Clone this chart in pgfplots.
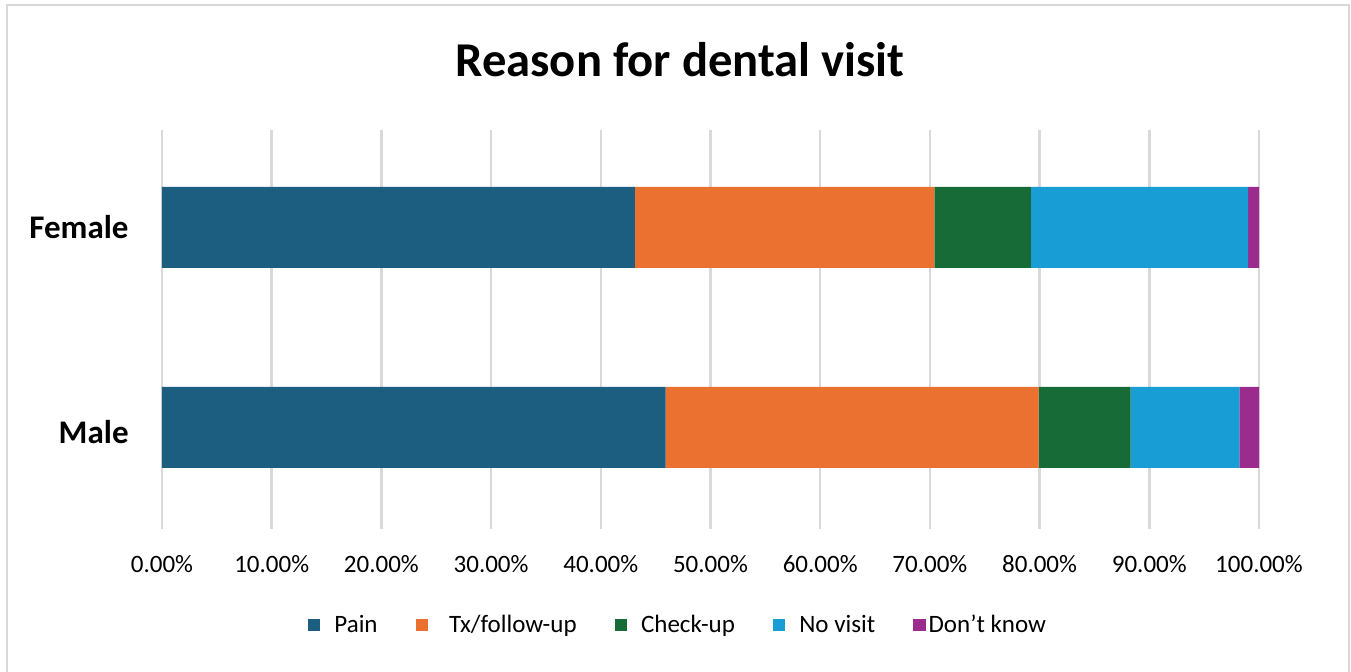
\documentclass[border=0pt]{standalone}
\usepackage{fontspec}
\setmainfont{Carlito}
\usepackage{pgfplots}
\pgfplotsset{compat=1.18}
\definecolor{cPain}{HTML}{1B5E80}
\definecolor{cTx}{HTML}{EB7130}
\definecolor{cCheck}{HTML}{176B37}
\definecolor{cNo}{HTML}{189DD5}
\definecolor{cDK}{HTML}{9B2C8D}
\definecolor{cGrid}{HTML}{D9D9D9}
\begin{document}
\begin{tikzpicture}
\useasboundingbox (-81pt,-71.5pt) rectangle (594.5pt,264.5pt);
\draw[cGrid, line width=1pt] (-77.5pt,-90pt) -- (-77.5pt,262pt) -- (593.5pt,262pt) -- (593.5pt,-90pt);
\begin{axis}[
  scale only axis,
  width=548.5pt, height=199.5pt,
  xbar stacked,
  bar width=40.5pt,
  xmin=0, xmax=100,
  ymin=-0.5075, ymax=1.4875,
  ytick={0,1},
  yticklabels={\raisebox{-8pt}[0pt][0pt]{Male},\raisebox{-5.3pt}[0pt][0pt]{Female}},
  xtick={0,10,...,100},
  xticklabels={0.00\%,10.00\%,20.00\%,30.00\%,40.00\%,50.00\%,60.00\%,70.00\%,80.00\%,90.00\%,100.00\%},
  major tick length=0pt,
  axis line style={draw=none},
  xmajorgrids,
  grid style={cGrid, line width=1.2pt},
  yticklabel style={font=\fontsize{16.5}{18}\selectfont\bfseries, inner sep=0pt, anchor=east, xshift=-16.5pt},
  xticklabel style={font=\fontsize{12.5}{14}\selectfont, inner sep=0pt, anchor=north, yshift=-13pt},
  title={Reason for dental visit},
  title style={at={(axis description cs:0.4722,1.1454)}, anchor=center, font=\fontsize{24.3}{28}\selectfont\bfseries},
  legend columns=5,
  legend style={at={(axis description cs:0.4713,-0.2406)}, anchor=center, draw=none,
    font=\fontsize{12.5}{14}\selectfont,
    /tikz/every odd column/.append style={column sep=5pt},
    /tikz/every even column/.append style={column sep=17pt}},
  legend image code/.code={\fill[#1] (0pt,-3.2pt) rectangle (6.2pt,3.2pt);},
]
\addplot[fill=cPain, draw=none] coordinates {(45.9,0) (43.1,1)};
\addplot[fill=cTx, draw=none] coordinates {(34.0,0) (27.3,1)};
\addplot[fill=cCheck, draw=none] coordinates {(8.4,0) (8.8,1)};
\addplot[fill=cNo, draw=none] coordinates {(9.9,0) (19.8,1)};
\addplot[fill=cDK, draw=none] coordinates {(1.8,0) (1.0,1)};
\legend{Pain,\hspace{3.5pt}Tx/follow-up\hspace{5.5pt},Check-up,No visit,\hspace{-5.5pt}Don’t know}
\end{axis}
\end{tikzpicture}
\end{document}
